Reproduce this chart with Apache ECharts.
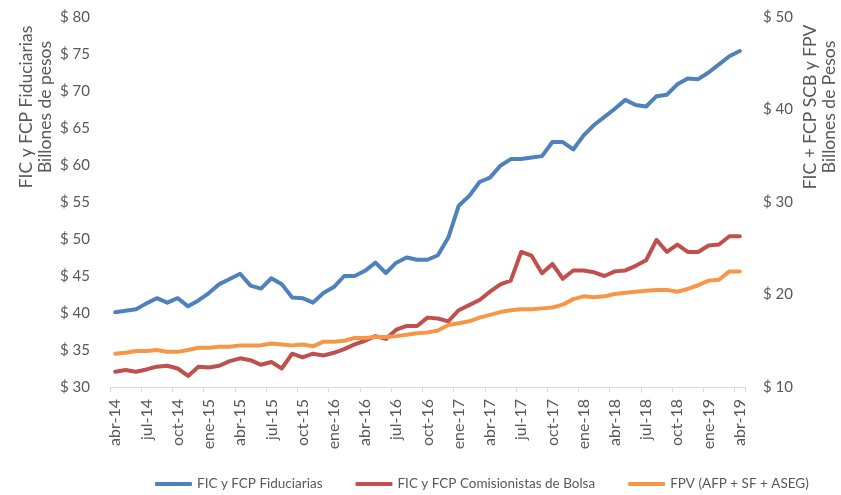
<!DOCTYPE html>
<html><head><meta charset="utf-8">
<script src="https://cdn.jsdelivr.net/npm/echarts@6/dist/echarts.min.js"></script>
<style>html,body{margin:0;padding:0;background:#fff}#c{width:841px;height:495px}</style>
</head><body><div id="c"></div>
<script>
const months = ['abr','may','jun','jul','ago','sep','oct','nov','dic','ene','feb','mar'];
const categories = [];
(function(){ let y = 14; for (let i = 0; i < 61; i++) { const m = months[i % 12]; if (m === 'ene' && i > 0) y++; categories.push(m + '-' + y); } })();

const fiduciarias = [40.1,40.3,40.5,41.3,42.0,41.4,42.0,40.9,41.7,42.7,43.9,44.6,45.3,43.7,43.3,44.7,43.9,42.1,42.0,41.4,42.7,43.5,45.0,45.0,45.7,46.8,45.4,46.8,47.5,47.2,47.2,47.8,50.2,54.5,55.8,57.7,58.3,59.9,60.8,60.8,61.0,61.2,63.1,63.1,62.1,64.0,65.4,66.5,67.6,68.8,68.1,67.9,69.3,69.5,70.9,71.7,71.6,72.5,73.6,74.7,75.4];
const comisionistas = [11.65,11.84,11.65,11.9,12.2,12.3,12.0,11.2,12.2,12.1,12.3,12.8,13.1,12.9,12.4,12.7,12.0,13.6,13.2,13.6,13.4,13.7,14.1,14.6,15.0,15.5,15.2,16.2,16.6,16.6,17.5,17.4,17.1,18.3,18.85,19.4,20.3,21.1,21.5,24.6,24.2,22.3,23.3,21.7,22.6,22.6,22.4,22.0,22.5,22.6,23.1,23.7,25.9,24.6,25.4,24.6,24.6,25.3,25.4,26.3,26.3];
const fpv = [13.6,13.7,13.9,13.9,14.0,13.8,13.8,14.0,14.25,14.25,14.35,14.35,14.5,14.5,14.5,14.7,14.6,14.5,14.6,14.4,14.9,14.9,15.0,15.3,15.3,15.4,15.4,15.5,15.65,15.8,15.9,16.1,16.7,16.9,17.1,17.5,17.8,18.1,18.3,18.4,18.4,18.5,18.6,18.9,19.5,19.8,19.7,19.8,20.05,20.2,20.3,20.4,20.5,20.5,20.3,20.6,21.0,21.5,21.6,22.5,22.5];

const seriesNames = ['FIC y FCP Fiduciarias','FIC y FCP Comisionistas de Bolsa','FPV (AFP + SF + ASEG)'];
const leftTitle = 'FIC y FCP Fiduciarias\nBillones de pesos';
const rightTitle = 'FIC + FCP SCB y FPV\nBillones de Pesos';

const FONT = 'Lato';
const GRAY = '#595959';
const chart = echarts.init(document.getElementById('c'), null, {renderer:'canvas'});
chart.setOption({
  animation: false,
  textStyle: {fontFamily: FONT},
  grid: {left: 110, right: 96, top: 17, bottom: 108},
  legend: {
    left: 150, top: 472, itemWidth: 37, itemHeight: 4, itemGap: 33,
    icon: 'roundRect',
    textStyle: {fontFamily: FONT, fontSize: 13.5, color: GRAY},
    data: seriesNames
  },
  xAxis: {
    type: 'category', data: categories, boundaryGap: true,
    axisLine: {lineStyle: {color: '#d9d9d9', width: 1}},
    axisTick: {show: true, interval: 2, length: 5, lineStyle: {color: '#d9d9d9'}},
    axisLabel: {interval: 2, rotate: 90, margin: 12, fontFamily: FONT, fontSize: 16, color: GRAY},
    splitLine: {show: false}
  },
  yAxis: [
    {type: 'value', min: 30, max: 80, interval: 5, position: 'left',
     axisLine: {show: false}, axisTick: {show: false}, splitLine: {show: false},
     axisLabel: {formatter: '$ {value}', margin: 20, fontFamily: FONT, fontSize: 15, color: GRAY}},
    {type: 'value', min: 10, max: 50, interval: 10, position: 'right',
     axisLine: {show: false}, axisTick: {show: false}, splitLine: {show: false},
     axisLabel: {formatter: '$ {value}', margin: 18, fontFamily: FONT, fontSize: 15, color: GRAY}}
  ],
  graphic: [
    {type: 'text', x: 36, y: 107, rotation: Math.PI/2,
     style: {text: leftTitle, fontFamily: FONT, fontSize: 17.5, fill: GRAY, align: 'center', verticalAlign: 'middle', lineHeight: 19}},
    {type: 'text', x: 820, y: 107, rotation: Math.PI/2,
     style: {text: rightTitle, fontFamily: FONT, fontSize: 17.5, fill: GRAY, align: 'center', verticalAlign: 'middle', lineHeight: 19}}
  ],
  series: [
    {name: seriesNames[0], type: 'line', yAxisIndex: 0, data: fiduciarias, showSymbol: false, symbol: 'none',
     lineStyle: {width: 4, color: '#4f81bd', cap: 'round', join: 'round'}, itemStyle: {color: '#4f81bd'}},
    {name: seriesNames[1], type: 'line', yAxisIndex: 1, data: comisionistas, showSymbol: false, symbol: 'none',
     lineStyle: {width: 4, color: '#c0504d', cap: 'round', join: 'round'}, itemStyle: {color: '#c0504d'}},
    {name: seriesNames[2], type: 'line', yAxisIndex: 1, data: fpv, showSymbol: false, symbol: 'none',
     lineStyle: {width: 4, color: '#f79646', cap: 'round', join: 'round'}, itemStyle: {color: '#f79646'}}
  ]
});
</script></body></html>
